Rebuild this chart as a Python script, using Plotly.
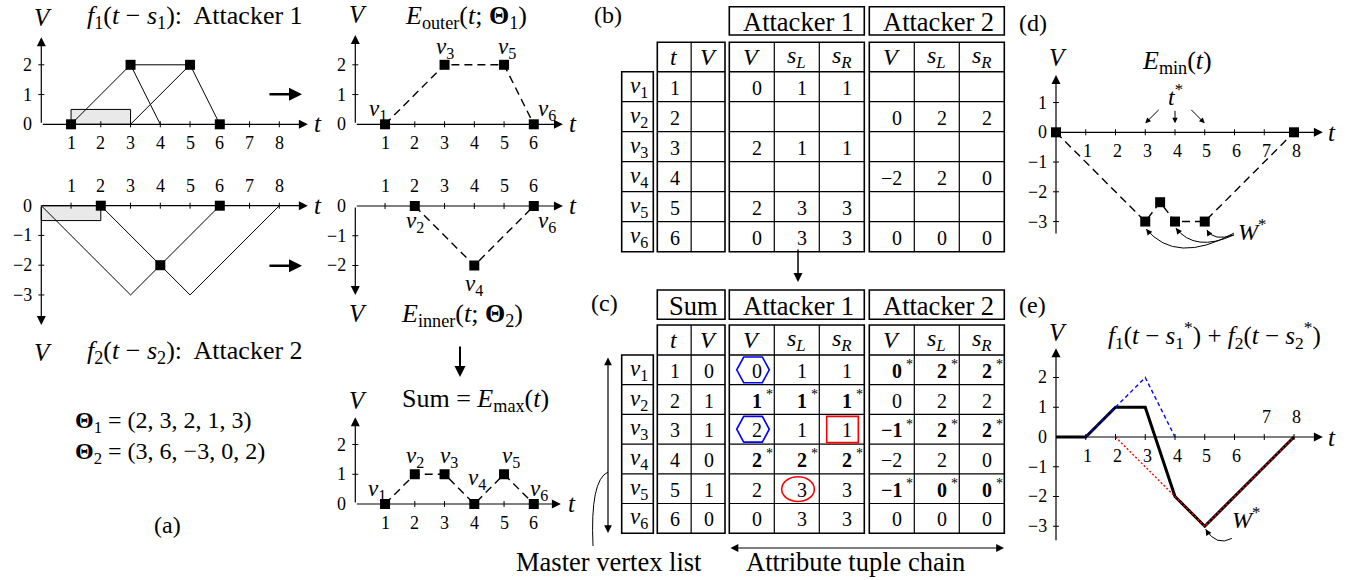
import plotly.graph_objects as go

W, H = 1360, 580
S = 29.75                      # pixels per unit on every small chart
FONT = "'Liberation Serif', 'DejaVu Serif', serif"
BLUE = "#0000ff"
RED = "#ff0000"

# ---------------- values ----------------
THETA1 = [2, 3, 2, 1, 3]
THETA2 = [3, 6, -3, 0, 2]

# (a) shifted attacker profiles
F1_LEFT_T, F1_LEFT_V = [1, 3, 4], [0, 2, 0]
F1_RIGHT_T, F1_RIGHT_V = [3, 5, 6], [0, 2, 0]
F1_TOP_T, F1_TOP_V = [3, 5], [2, 2]
F1_VERT_T, F1_VERT_V = [1, 3, 5, 6], [0, 2, 2, 0]
F1_SPAN_T, F1_SPAN_V = [1, 3], [0, 0.5]

F2_LEFT_T, F2_LEFT_V = [0, 3, 6], [0, -3, 0]
F2_RIGHT_T, F2_RIGHT_V = [2, 5, 8], [0, -3, 0]
F2_VERT_T, F2_VERT_V = [2, 4, 6], [0, -2, 0]
F2_SPAN_T, F2_SPAN_V = [0, 2], [-0.5, 0]

# envelopes
OUTER_T, OUTER_V, OUTER_IDX = [1, 3, 5, 6], [0, 2, 2, 0], [1, 3, 5, 6]
INNER_T, INNER_V, INNER_IDX = [2, 4, 6], [0, -2, 0], [2, 4, 6]
EMAX_T, EMAX_V, EMAX_IDX = [1, 2, 3, 4, 5, 6], [0, 1, 1, 0, 1, 0], [1, 2, 3, 4, 5, 6]

# (d) lower envelope
EMIN_T = [0, 3, 3.5, 4, 5, 8]
EMIN_V = [0, -3, -2.35, -3, -3, 0]
TSTAR_T = [3, 4, 5]
WSTAR_T, WSTAR_V = [3, 4, 5], [-3, -3, -3]

# (e) optimal shifts
F1S_T, F1S_V = [1, 3, 4], [0, 2, 0]
F2S_T, F2S_V = [2, 5, 8], [0, -3, 0]
FSUM_T, FSUM_V = [0, 1, 2, 3, 4, 5, 8], [0, 0, 1, 1, -2, -3, 0]
WSTAR_E_T, WSTAR_E_V = 5, -3

# tick values
A_XTICKS = [1, 2, 3, 4, 5, 6, 7, 8]
A1_YTICKS = [0, 1, 2]
A2_YTICKS = [0, -1, -2, -3]
ENV_XTICKS = [1, 2, 3, 4, 5, 6]
OUT_YTICKS = [0, 1, 2]
INN_YTICKS = [0, -1, -2]
SUM_YTICKS = [0, 1, 2]
D_XTICKS = [1, 2, 3, 4, 5, 6, 7, 8]
D_YTICKS = [1, 0, -1, -2, -3]
E_XTICKS = [1, 2, 3, 4, 5, 6, 7, 8]
E_XTICKS_ABOVE = [7, 8]
E_YTICKS = [2, 1, 0, -1, -2, -3]

# tables: one list per column, "*" marks a bold starred entry
VERTICES = [1, 2, 3, 4, 5, 6]
B_T = ["1", "2", "3", "4", "5", "6"]
B_V = ["", "", "", "", "", ""]
B_A1_V = ["0", "", "2", "", "2", "0"]
B_A1_SL = ["1", "", "1", "", "3", "3"]
B_A1_SR = ["1", "", "1", "", "3", "3"]
B_A2_V = ["", "0", "", "-2", "", "0"]
B_A2_SL = ["", "2", "", "2", "", "0"]
B_A2_SR = ["", "2", "", "0", "", "0"]

C_T = ["1", "2", "3", "4", "5", "6"]
C_V = ["0", "1", "1", "0", "1", "0"]
C_A1_V = ["0", "1*", "2", "2*", "2", "0"]
C_A1_SL = ["1", "1*", "1", "2*", "3", "3"]
C_A1_SR = ["1", "1*", "1", "2*", "3", "3"]
C_A2_V = ["0*", "0", "-1*", "-2", "-1*", "0"]
C_A2_SL = ["2*", "2", "2*", "2", "0*", "0"]
C_A2_SR = ["2*", "2", "2*", "0", "0*", "0"]

COL_HEADS = ["<i>t</i>", "<i>V</i>",
             "<i>V</i>", "<i>s</i><sub><i>L</i></sub>", "<i>s</i><sub><i>R</i></sub>",
             "<i>V</i>", "<i>s</i><sub><i>L</i></sub>", "<i>s</i><sub><i>R</i></sub>"]

# ---------------- layout helpers ----------------
fig = go.Figure()
shapes, annotations = [], []


def fx(x):
    return x / W


def fy(y):
    return 1 - y / H


def label(x, y, s, size=20, anchor="center", valign="middle", color="black"):
    annotations.append(dict(x=fx(x), y=fy(y), xref="paper", yref="paper", text=s,
                            showarrow=False, xanchor=anchor, yanchor=valign,
                            font=dict(family=FONT, size=size, color=color)))


def arrow(x, y, dx, dy, width=1.2, head=2, size=1.4, both=False):
    """Arrow whose tip is at pixel (x, y); tail offset by (dx, dy) pixels."""
    annotations.append(dict(x=fx(x), y=fy(y), xref="paper", yref="paper", text="",
                            showarrow=True, ax=dx, ay=dy, arrowhead=head, arrowsize=size,
                            arrowwidth=width, arrowcolor="black", standoff=0, startstandoff=0,
                            arrowside="end+start" if both else "end", startarrowhead=head,
                            startarrowsize=size))


def num(v):
    return str(v).replace("-", "\u2212")


# chart panels: origin pixel and pixel box of each small coordinate system
PANELS = {
    "a1": dict(ox=41.3, oy=124.3, bx=(12, 326), by=(28, 166)),
    "a2": dict(ox=41.3, oy=205.7, bx=(12, 326), by=(172, 336)),
    "out": dict(ox=355.3, oy=124.3, bx=(330, 598), by=(28, 166)),
    "inn": dict(ox=355.3, oy=206.0, bx=(330, 598), by=(172, 300)),
    "sum": dict(ox=355.3, oy=504.0, bx=(330, 598), by=(410, 545)),
    "d": dict(ox=1056.0, oy=132.3, bx=(1025, 1355), by=(60, 255)),
    "e": dict(ox=1056.0, oy=437.0, bx=(1025, 1355), by=(340, 555)),
}
REF = {}
axes_layout = {}
for i, name in enumerate(PANELS, start=1):
    p = PANELS[name]
    sfx = "" if i == 1 else str(i)
    (bx0, bx1), (by0, by1) = p["bx"], p["by"]
    axes_layout["xaxis" + sfx] = dict(domain=[bx0 / W, bx1 / W],
                                      range=[(bx0 - p["ox"]) / S, (bx1 - p["ox"]) / S],
                                      visible=False, anchor="y" + sfx, fixedrange=True)
    axes_layout["yaxis" + sfx] = dict(domain=[1 - by1 / H, 1 - by0 / H],
                                      range=[(p["oy"] - by1) / S, (p["oy"] - by0) / S],
                                      visible=False, anchor="x" + sfx, fixedrange=True)
    REF[name] = ("x" + sfx, "y" + sfx)


def draw_axes(name, x_end, y_from, y_to, xticks, yticks, below=True, above=(), xshift=0,
              y_arrow=True):
    xr, yr = REF[name]
    annotations.append(dict(x=x_end, y=0, ax=0, ay=0, xref=xr, yref=yr, axref=xr, ayref=yr,
                            text="", showarrow=True, arrowhead=2, arrowsize=1.5, arrowwidth=1.2,
                            arrowcolor="black", standoff=0, startstandoff=0))
    if y_arrow:
        annotations.append(dict(x=0, y=y_to, ax=0, ay=y_from, xref=xr, yref=yr, axref=xr,
                                ayref=yr, text="", showarrow=True, arrowhead=2, arrowsize=1.5,
                                arrowwidth=1.2, arrowcolor="black", standoff=0, startstandoff=0))
    else:
        shapes.append(dict(type="line", xref=xr, yref=yr, x0=0, x1=0, y0=y_from, y1=y_to,
                           line=dict(color="black", width=1.2), layer="below"))
    for t in xticks:
        shapes.append(dict(type="line", xref=xr, yref=yr, x0=t, x1=t, ysizemode="pixel",
                           yanchor=0, y0=-3, y1=3, line=dict(color="black", width=1),
                           layer="below"))
        up = t in above or not below
        annotations.append(dict(x=t, y=0, xref=xr, yref=yr, text=num(t), showarrow=False,
                                xshift=xshift, yshift=20 if up else -19,
                                font=dict(family=FONT, size=18, color="black")))
    for v in yticks:
        if v != 0:
            shapes.append(dict(type="line", xref=xr, yref=yr, y0=v, y1=v, xsizemode="pixel",
                               xanchor=0, x0=-3, x1=3, line=dict(color="black", width=1),
                               layer="below"))
        annotations.append(dict(x=0, y=v, xref=xr, yref=yr, text=num(v), showarrow=False,
                                xanchor="right", xshift=-7,
                                font=dict(family=FONT, size=18, color="black")))


def line(name, t, v, color="black", width=1, dash="solid", markers=False):
    xr, yr = REF[name]
    fig.add_trace(go.Scatter(x=t, y=v, xaxis=xr, yaxis=yr, mode="lines+markers" if markers else "lines",
                             line=dict(color=color, width=width, dash=dash),
                             marker=dict(symbol="square", size=10, color="black"),
                             hoverinfo="skip", showlegend=False, cliponaxis=False))


def vertex_labels(name, t, v, idx, offsets):
    xr, yr = REF[name]
    for ti, vi, k, (dx, dy) in zip(t, v, idx, offsets):
        annotations.append(dict(x=ti, y=vi, xref=xr, yref=yr, showarrow=False, xshift=dx, yshift=dy,
                                text=f"<i>v</i><sub>{k}</sub>",
                                font=dict(family=FONT, size=23, color="black")))


def curved_arrow(name, p0, mid, p2):
    """Quadratic curve through mid, ending with an arrow head at p2 (data units)."""
    xr, yr = REF[name]
    cx = 2 * mid[0] - 0.5 * (p0[0] + p2[0])
    cy = 2 * mid[1] - 0.5 * (p0[1] + p2[1])
    shapes.append(dict(type="path", xref=xr, yref=yr,
                       path=f"M {p0[0]},{p0[1]} Q {cx},{cy} {p2[0]},{p2[1]}",
                       line=dict(color="black", width=1)))
    dx, dy = (cx - p2[0]) * S, -(cy - p2[1]) * S
    n = (dx * dx + dy * dy) ** 0.5
    annotations.append(dict(x=p2[0], y=p2[1], xref=xr, yref=yr, text="", showarrow=True,
                            ax=dx / n * 7, ay=dy / n * 7, arrowhead=2, arrowsize=1.2,
                            arrowwidth=1, arrowcolor="black", standoff=0, startstandoff=0))


def span_box(name, t, v):
    xr, yr = REF[name]
    shapes.append(dict(type="rect", xref=xr, yref=yr, x0=t[0], x1=t[1], y0=v[0], y1=v[1],
                       fillcolor="#e9e9e9", line=dict(color="black", width=1), layer="below"))


DASH = "8px,5px"
TITLE = 26

# ---------------- (a) attacker 1 ----------------
span_box("a1", F1_SPAN_T, F1_SPAN_V)
draw_axes("a1", 8.96, 0, 2.93, A_XTICKS, A1_YTICKS)
line("a1", F1_LEFT_T, F1_LEFT_V)
line("a1", F1_RIGHT_T, F1_RIGHT_V)
line("a1", F1_TOP_T, F1_TOP_V)
fig.add_trace(go.Scatter(x=F1_VERT_T, y=F1_VERT_V, xaxis=REF["a1"][0], yaxis=REF["a1"][1],
                         mode="markers", marker=dict(symbol="square", size=10, color="black"),
                         hoverinfo="skip", showlegend=False, cliponaxis=False))
label(43, 17, "<i>V</i>", 25)
label(85, 17, "<i>f</i><sub>1</sub>(<i>t</i> \u2212 <i>s</i><sub>1</sub>):  Attacker 1", TITLE, anchor="left")
label(318, 124, "<i>t</i>", 25)
arrow(302, 94.3, -34, 0, width=2.6, size=1.0)

# ---------------- (a) attacker 2 ----------------
span_box("a2", F2_SPAN_T, F2_SPAN_V)
draw_axes("a2", 8.96, 0, -4.01, A_XTICKS, A2_YTICKS, below=False)
line("a2", F2_LEFT_T, F2_LEFT_V)
line("a2", F2_RIGHT_T, F2_RIGHT_V)
fig.add_trace(go.Scatter(x=F2_VERT_T, y=F2_VERT_V, xaxis=REF["a2"][0], yaxis=REF["a2"][1],
                         mode="markers", marker=dict(symbol="square", size=10, color="black"),
                         hoverinfo="skip", showlegend=False, cliponaxis=False))
label(43, 352, "<i>V</i>", 25)
label(85, 352, "<i>f</i><sub>2</sub>(<i>t</i> \u2212 <i>s</i><sub>2</sub>):  Attacker 2", TITLE, anchor="left")
label(318, 206, "<i>t</i>", 25)
arrow(302, 265.7, -34, 0, width=2.6, size=1.0)

label(73, 422, "<b>\u0398</b><sub>1</sub> = (" + ", ".join(num(v) for v in THETA1) + ")", 24, anchor="left")
label(73, 453, "<b>\u0398</b><sub>2</sub> = (" + ", ".join(num(v) for v in THETA2) + ")", 24, anchor="left")
label(167, 525, "(a)", 24)

# ---------------- envelopes ----------------
draw_axes("out", 6.98, 0, 3.0, ENV_XTICKS, OUT_YTICKS)
line("out", OUTER_T, OUTER_V, width=1.4, dash=DASH, markers=True)
vertex_labels("out", OUTER_T, OUTER_V, OUTER_IDX, [(-7, 14), (0, 17), (3, 17), (13, 14)])
label(358, 15, "<i>V</i>", 25)
label(466, 17, "<i>E</i><sub>outer</sub>(<i>t</i>; <b>\u0398</b><sub>1</sub>)", TITLE)
label(573, 124, "<i>t</i>", 25)

draw_axes("inn", 6.98, 0, -2.99, ENV_XTICKS, INN_YTICKS, below=False)
line("inn", INNER_T, INNER_V, width=1.4, dash=DASH, markers=True)
vertex_labels("inn", INNER_T, INNER_V, INNER_IDX, [(0, -16), (0, -20), (13, -16)])
label(358, 313, "<i>V</i>", 25)
label(462, 315, "<i>E</i><sub>inner</sub>(<i>t</i>; <b>\u0398</b><sub>2</sub>)", TITLE)
label(573, 206, "<i>t</i>", 25)

arrow(460, 377, 0, -32, width=2, size=1.1)

draw_axes("sum", 6.91, 0, 2.92, ENV_XTICKS, SUM_YTICKS)
line("sum", EMAX_T, EMAX_V, width=1.4, dash=DASH, markers=True)
vertex_labels("sum", EMAX_T, EMAX_V, EMAX_IDX, [(-8, 14), (0, 17), (4, 17), (3, 25), (7, 17), (5, 14)])
label(358, 400, "<i>V</i>", 25)
label(476, 400, "Sum = <i>E</i><sub>max</sub>(<i>t</i>)", TITLE)
label(572, 503, "<i>t</i>", 25)

# ---------------- (d) ----------------
draw_axes("d", 8.97, -3.45, 1.93, D_XTICKS, D_YTICKS, xshift=2)
line("d", EMIN_T, EMIN_V, width=1.4, dash=DASH, markers=True)
label(1033, 23, "(d)", 24)
label(1058, 57, "<i>V</i>", 25)
label(1177, 62, "<i>E</i><sub>min</sub>(<i>t</i>)", TITLE)
label(1332, 132, "<i>t</i>", 25)
xr, yr = REF["d"]
annotations.append(dict(x=TSTAR_T[1], y=0, xref=xr, yref=yr, yshift=37, showarrow=False,
                        text="<i>t</i><sup>*</sup>", font=dict(family=FONT, size=24, color="black")))
for t, (dx, dy) in zip(TSTAR_T, [(15, -15), (0, -14), (-15, -15)]):
    annotations.append(dict(x=t, y=0, xref=xr, yref=yr, yshift=9, text="", showarrow=True,
                            ax=dx, ay=dy, arrowhead=2, arrowsize=1.1, arrowwidth=1,
                            arrowcolor="black", standoff=0, startstandoff=0))
annotations.append(dict(x=WSTAR_T[2], y=WSTAR_V[2], xref=xr, yref=yr, xshift=47, yshift=-8,
                        showarrow=False, text="<i>W</i><sup>*</sup>",
                        font=dict(family=FONT, size=24, color="black")))
curved_arrow("d", (5.98, -3.39), (4.27, -3.89), (WSTAR_T[0] + 0.03, WSTAR_V[0] - 0.25))
curved_arrow("d", (5.98, -3.45), (4.84, -3.69), (WSTAR_T[1] + 0.03, WSTAR_V[1] - 0.22))
curved_arrow("d", (5.98, -3.45), (5.41, -3.52), (WSTAR_T[2] + 0.07, WSTAR_V[2] - 0.28))

# ---------------- (e) ----------------
draw_axes("e", 8.97, -3.52, 2.98, E_XTICKS, E_YTICKS, above=E_XTICKS_ABOVE, xshift=2)
line("e", FSUM_T, FSUM_V, width=3)
line("e", F1S_T, F1S_V, color=BLUE, width=1.4, dash="4px,3px")
line("e", F2S_T, F2S_V, color=RED, width=1.4, dash="2px,2px")
label(1032, 305, "(e)", 24)
label(1058, 332, "<i>V</i>", 25)
label(1214, 335, "<i>f</i><sub>1</sub>(<i>t</i> \u2212 <i>s</i><sub>1</sub><sup>*</sup>) + "
      "<i>f</i><sub>2</sub>(<i>t</i> \u2212 <i>s</i><sub>2</sub><sup>*</sup>)", 25)
label(1332, 437, "<i>t</i>", 25)
xr, yr = REF["e"]
annotations.append(dict(x=WSTAR_E_T, y=WSTAR_E_V, xref=xr, yref=yr, xshift=41, yshift=8,
                        showarrow=False, text="<i>W</i><sup>*</sup>",
                        font=dict(family=FONT, size=24, color="black")))
curved_arrow("e", (5.91, -3.41), (5.43, -3.47), (WSTAR_E_T + 0.03, WSTAR_E_V - 0.1))


# ---------------- tables ----------------
def draw_table(geo, group_titles, columns, highlights=()):
    top, hdr, row_h, vx0, vx1 = geo["top"], geo["hdr"], geo["row_h"], geo["vbox"][0], geo["vbox"][1]
    bottom = hdr + row_h * len(VERTICES)
    col_edges = []
    for (gx0, gx1, n), title in zip(geo["groups"], group_titles):
        if title is not None:
            hy0, hy1 = geo["head"]
            shapes.append(dict(type="rect", xref="paper", yref="paper", x0=fx(gx0), x1=fx(gx1),
                               y0=fy(hy1), y1=fy(hy0), line=dict(color="black", width=1.6)))
            label((gx0 + gx1) / 2 + 2, (hy0 + hy1) / 2 + 1, title, 26.5)
        shapes.append(dict(type="rect", xref="paper", yref="paper", x0=fx(gx0), x1=fx(gx1),
                           y0=fy(bottom), y1=fy(top), line=dict(color="black", width=1.6)))
        w = (gx1 - gx0) / n
        for k in range(n):
            col_edges.append((gx0 + k * w, gx0 + (k + 1) * w))
            if k:
                shapes.append(dict(type="line", xref="paper", yref="paper", x0=fx(gx0 + k * w),
                                   x1=fx(gx0 + k * w), y0=fy(top), y1=fy(bottom),
                                   line=dict(color="black", width=1.2)))
        for r in range(len(VERTICES)):
            yy = hdr + r * row_h
            shapes.append(dict(type="line", xref="paper", yref="paper", x0=fx(gx0), x1=fx(gx1),
                               y0=fy(yy), y1=fy(yy), line=dict(color="black", width=1.6 if r == 0 else 1.2)))
    # master vertex column
    shapes.append(dict(type="rect", xref="paper", yref="paper", x0=fx(vx0), x1=fx(vx1),
                       y0=fy(bottom), y1=fy(hdr), line=dict(color="black", width=1.6)))
    for r, k in enumerate(VERTICES):
        yc = hdr + (r + 0.5) * row_h
        if r:
            shapes.append(dict(type="line", xref="paper", yref="paper", x0=fx(vx0), x1=fx(vx1),
                               y0=fy(hdr + r * row_h), y1=fy(hdr + r * row_h),
                               line=dict(color="black", width=1.2)))
        label((vx0 + vx1) / 2 + 1, yc, f"<i>v</i><sub>{k}</sub>", 23)
    # column heads and cells
    for (cx0, cx1), head, col in zip(col_edges, COL_HEADS, columns):
        label((cx0 + cx1) / 2, (top + hdr) / 2, head, 24)
        right = cx1 - (9.5 if cx1 - cx0 < 40 else 10.5)
        for r, s in enumerate(col):
            yc = hdr + (r + 0.5) * row_h + 1
            if not s:
                continue
            if s.endswith("*"):
                label(right, yc, "<b>" + num(s[:-1]) + "</b>", 20, anchor="right")
                label(right, yc - 6, "*", 14, anchor="left")
            else:
                label(right, yc, num(s), 20, anchor="right")
    # highlighted entries
    for kind, r, c in highlights:
        cx0, cx1 = col_edges[c]
        x0, x1 = cx0 + 7.4, cx1 - 5
        y0, y1 = hdr + r * row_h + 2, hdr + (r + 1) * row_h - 2
        if kind == "hex":
            ym = (y0 + y1) / 2
            pts = [(x0, ym), (x0 + 7, y0), (x1 - 7, y0), (x1, ym), (x1 - 7, y1), (x0 + 7, y1)]
            path = "M " + " L ".join(f"{fx(a)},{fy(b)}" for a, b in pts) + " Z"
            shapes.append(dict(type="path", xref="paper", yref="paper", path=path,
                               line=dict(color=BLUE, width=1.6)))
        elif kind == "box":
            shapes.append(dict(type="rect", xref="paper", yref="paper", x0=fx(x0), x1=fx(x1 - 1),
                               y0=fy(y1 + 0.5), y1=fy(y0), line=dict(color=RED, width=1.6)))
        else:
            shapes.append(dict(type="circle", xref="paper", yref="paper", x0=fx(x0), x1=fx(x1),
                               y0=fy(y1), y1=fy(y0 + 1), line=dict(color=RED, width=1.6)))


GROUPS = [(657.3, 725.0, 2), (729.3, 864.3, 3), (869.3, 1004.3, 3)]
TABLE_B = dict(head=(6.7, 35.0), top=42.3, hdr=71.7, row_h=30.0, vbox=(621.7, 653.3), groups=GROUPS)
TABLE_C = dict(head=(290.0, 319.3), top=325.0, hdr=355.0, row_h=29.7, vbox=(621.7, 653.3), groups=GROUPS)

draw_table(TABLE_B, [None, "Attacker 1", "Attacker 2"],
           [B_T, B_V, B_A1_V, B_A1_SL, B_A1_SR, B_A2_V, B_A2_SL, B_A2_SR])
draw_table(TABLE_C, ["Sum", "Attacker 1", "Attacker 2"],
           [C_T, C_V, C_A1_V, C_A1_SL, C_A1_SR, C_A2_V, C_A2_SL, C_A2_SR],
           highlights=[("hex", 0, 2), ("hex", 2, 2), ("box", 2, 4), ("circle", 4, 3)])
label(608, 15, "(b)", 24)
label(604, 303, "(c)", 24)
arrow(798, 282, 0, -34, width=1.5, size=1.2)

# master vertex list / attribute tuple chain
arrow(608, 533, 0, -177, width=1.2, size=1.3, both=True)
arrow(1004, 548, -275, 0, width=1.2, size=1.3, both=True)
shapes.append(dict(type="path", xref="paper", yref="paper",
                   path=f"M {fx(608)},{fy(472)} Q {fx(590)},{fy(480)} {fx(593)},{fy(546)}",
                   line=dict(color="black", width=1)))
label(609, 562, "Master vertex list", 26.5)
label(855, 562, "Attribute tuple chain", 26.5)

fig.update_layout(width=W, height=H, margin=dict(l=0, r=0, t=0, b=0),
                  paper_bgcolor="white", plot_bgcolor="rgba(0,0,0,0)",
                  font=dict(family=FONT),
                  shapes=shapes, annotations=annotations, showlegend=False, **axes_layout)
fig.write_html("out.html", config={"displayModeBar": False})
